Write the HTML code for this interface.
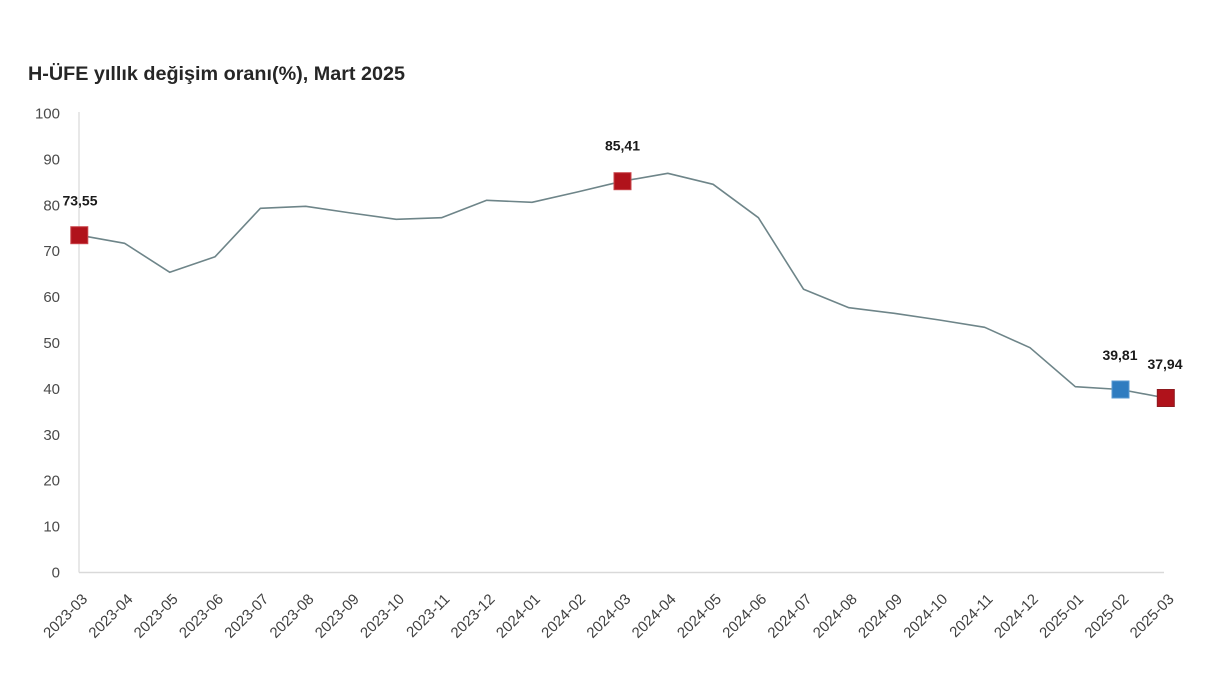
<!DOCTYPE html>
<html>
<head>
<meta charset="utf-8">
<style>
  html,body{margin:0;padding:0;background:#ffffff;}
  svg{display:block;}
  text{font-family:"Liberation Sans",Arial,sans-serif;}
</style>
</head>
<body>
<svg width="1208" height="675" viewBox="0 0 1208 675" xmlns="http://www.w3.org/2000/svg">
  <rect width="1208" height="675" fill="#ffffff"/>
  <!-- Title -->
  <text x="28" y="80" font-size="19" font-weight="bold" fill="#262626" textLength="377" lengthAdjust="spacingAndGlyphs">H-ÜFE yıllık değişim oranı(%), Mart 2025</text>

  <!-- Axes -->
  <line x1="79" y1="112" x2="79" y2="572.5" stroke="#d9d9d9" stroke-width="1.2"/>
  <line x1="79" y1="572.5" x2="1164" y2="572.5" stroke="#d9d9d9" stroke-width="1.5"/>

  <!-- Y tick labels -->
  <g font-size="15" fill="#4a4a4a" text-anchor="end">
    <text x="60" y="118.5">100</text>
    <text x="60" y="164.4">90</text>
    <text x="60" y="210.3">80</text>
    <text x="60" y="256.2">70</text>
    <text x="60" y="302.1">60</text>
    <text x="60" y="348">50</text>
    <text x="60" y="393.9">40</text>
    <text x="60" y="439.8">30</text>
    <text x="60" y="485.7">20</text>
    <text x="60" y="531.6">10</text>
    <text x="60" y="577.5">0</text>
  </g>

  <!-- X labels -->
  <g font-size="15" fill="#404040" text-anchor="end">
    <text transform="translate(88.3,600) rotate(-45)">2023-03</text>
    <text transform="translate(133.6,600) rotate(-45)">2023-04</text>
    <text transform="translate(178.8,600) rotate(-45)">2023-05</text>
    <text transform="translate(224.1,600) rotate(-45)">2023-06</text>
    <text transform="translate(269.4,600) rotate(-45)">2023-07</text>
    <text transform="translate(314.7,600) rotate(-45)">2023-08</text>
    <text transform="translate(359.9,600) rotate(-45)">2023-09</text>
    <text transform="translate(405.2,600) rotate(-45)">2023-10</text>
    <text transform="translate(450.5,600) rotate(-45)">2023-11</text>
    <text transform="translate(495.7,600) rotate(-45)">2023-12</text>
    <text transform="translate(541,600) rotate(-45)">2024-01</text>
    <text transform="translate(586.3,600) rotate(-45)">2024-02</text>
    <text transform="translate(631.5,600) rotate(-45)">2024-03</text>
    <text transform="translate(676.8,600) rotate(-45)">2024-04</text>
    <text transform="translate(722.1,600) rotate(-45)">2024-05</text>
    <text transform="translate(767.4,600) rotate(-45)">2024-06</text>
    <text transform="translate(812.6,600) rotate(-45)">2024-07</text>
    <text transform="translate(857.9,600) rotate(-45)">2024-08</text>
    <text transform="translate(903.2,600) rotate(-45)">2024-09</text>
    <text transform="translate(948.4,600) rotate(-45)">2024-10</text>
    <text transform="translate(993.7,600) rotate(-45)">2024-11</text>
    <text transform="translate(1039,600) rotate(-45)">2024-12</text>
    <text transform="translate(1084.3,600) rotate(-45)">2025-01</text>
    <text transform="translate(1129.5,600) rotate(-45)">2025-02</text>
    <text transform="translate(1174.8,600) rotate(-45)">2025-03</text>
  </g>

  <!-- Series line -->
  <polyline fill="none" stroke="#6e8589" stroke-width="1.6" stroke-linejoin="round"
    points="79.3,235.2 124.6,243.3 169.8,272.3 215.1,256.7 260.4,208.3 305.7,206.3 350.9,213 396.2,219.3 441.5,217.7 486.7,200.3 532,202.3 577.3,192 622.5,181.2 667.8,173.3 713.1,184.3 758.4,217.7 803.6,289.3 848.9,307.7 894.2,313.3 939.4,320 984.7,327.3 1030,347.7 1075.3,386.7 1120.5,389.5 1165.8,398"/>

  <!-- Markers -->
  <rect x="70.8" y="226.7" width="17" height="17" fill="#b0121b" stroke="#c9454b" stroke-width="1"/>
  <rect x="614" y="172.7" width="17" height="17" fill="#b0121b" stroke="#c9454b" stroke-width="1"/>
  <rect x="1112" y="381" width="17" height="17" fill="#2f7cc0" stroke="#5a9ad2" stroke-width="1"/>
  <rect x="1157.3" y="389.5" width="17" height="17" fill="#b0121b" stroke="#8e1a1f" stroke-width="1"/>

  <!-- Data labels -->
  <g font-size="14" font-weight="bold" fill="#1a1a1a" text-anchor="middle">
    <text x="80" y="205.5">73,55</text>
    <text x="622.5" y="150.7">85,41</text>
    <text x="1120" y="360">39,81</text>
    <text x="1165" y="369">37,94</text>
  </g>
</svg>
</body>
</html>
